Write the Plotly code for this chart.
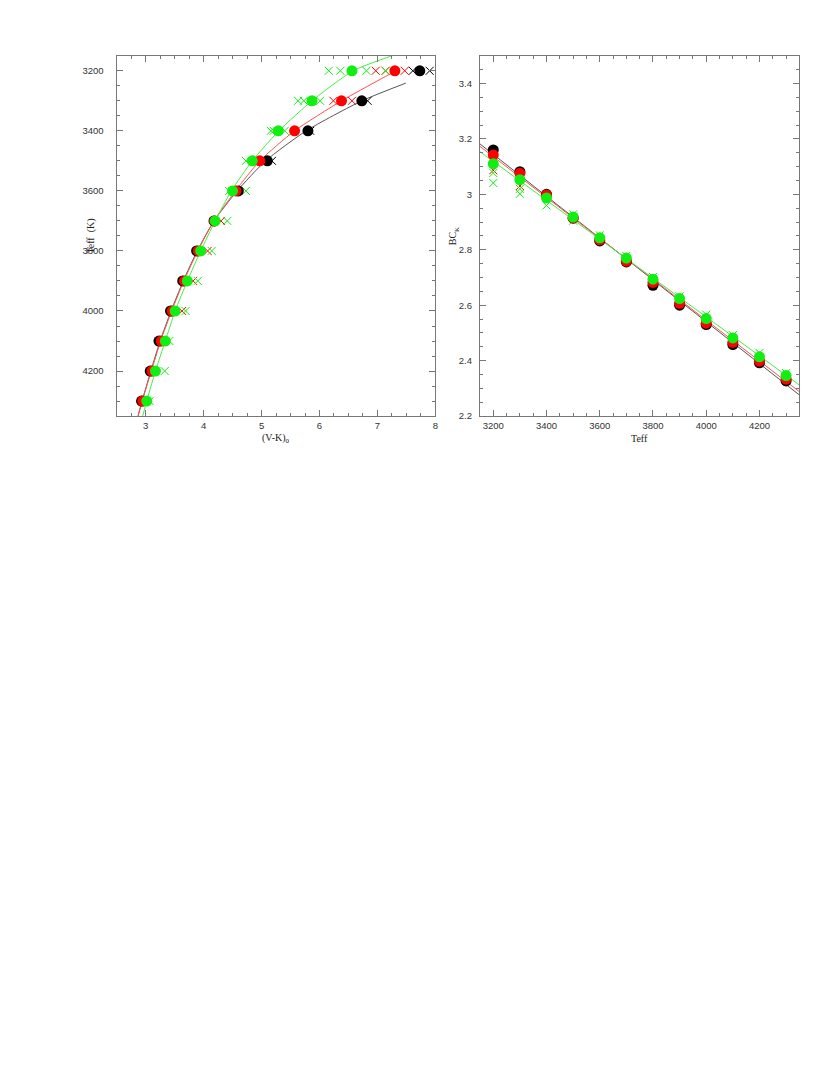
''' Teff - colour and bolometric correction relations '''
import plotly.graph_objects as go

# ---- data ----
teff = [3200, 3300, 3400, 3500, 3600, 3700, 3800, 3900, 4000, 4100, 4200, 4300]

# left panel: (V-K)0 of each model set
vk_black = [7.73, 6.73, 5.80, 5.10, 4.60, 4.18, 3.88, 3.64, 3.43, 3.23, 3.08, 2.93]
vk_red = [7.30, 6.38, 5.57, 4.97, 4.56, 4.19, 3.91, 3.67, 3.46, 3.27, 3.11, 2.95]
vk_green = [6.56, 5.87, 5.29, 4.84, 4.50, 4.20, 3.95, 3.72, 3.51, 3.34, 3.17, 3.02]

# left panel crosses
xg_teff = [3200, 3200, 3200, 3200, 3300, 3300, 3300, 3400, 3400, 3400, 3500,
           3600, 3600, 3700, 3800, 3900, 4000, 4100, 4200, 4300]
xg_vk = [6.16, 6.36, 6.81, 7.14, 5.63, 5.73, 6.01, 5.16, 5.21, 5.40, 4.73,
         4.44, 4.73, 4.41, 4.14, 3.90, 3.69, 3.41, 3.33, 3.07]
xr_teff = [3200, 3200, 3200, 3300, 3300, 3700, 3800, 3900, 4000]
xr_vk = [6.97, 7.14, 7.47, 6.24, 6.56, 4.30, 4.07, 3.82, 3.63]
xk_teff = [3200, 3200, 3300, 3400, 3500]
xk_vk = [7.61, 7.90, 6.83, 5.84, 5.18]

# left panel fitted curves
fit_black_teff = [4350, 4300, 4200, 4100, 4000, 3900, 3800, 3700, 3600, 3500, 3400, 3300, 3241]
fit_black_vk = [2.87, 2.94, 3.09, 3.25, 3.44, 3.65, 3.89, 4.18, 4.58, 5.07, 5.77, 6.73, 7.49]
fit_red_teff = [4350, 4300, 4200, 4100, 4000, 3900, 3800, 3700, 3600, 3500, 3400, 3300, 3200]
fit_red_vk = [2.87, 2.94, 3.10, 3.26, 3.45, 3.66, 3.90, 4.18, 4.55, 4.97, 5.57, 6.38, 7.32]
fit_green_teff = [4350, 4300, 4200, 4100, 4000, 3900, 3800, 3700, 3600, 3500, 3400, 3300, 3200, 3150]
fit_green_vk = [2.95, 3.02, 3.17, 3.34, 3.51, 3.72, 3.95, 4.20, 4.48, 4.84, 5.30, 5.87, 6.58, 7.25]

# right panel: BC_K of each model set
bc_black = [3.160, 3.082, 3.000, 2.914, 2.832, 2.756, 2.672, 2.600, 2.530, 2.458, 2.392, 2.327]
bc_red = [3.142, 3.076, 2.998, 2.915, 2.836, 2.759, 2.682, 2.607, 2.535, 2.466, 2.398, 2.333]
bc_green = [3.110, 3.053, 2.987, 2.918, 2.843, 2.770, 2.694, 2.624, 2.552, 2.482, 2.414, 2.346]

# right panel crosses
bg_teff = [3200, 3200, 3300, 3300, 3400, 3500, 3500, 3600, 3700, 3800, 3900, 4000, 4100, 4200, 4300]
bg_bc = [3.077, 3.041, 3.020, 3.002, 2.960, 2.928, 2.905, 2.852, 2.778, 2.702, 2.632, 2.566,
         2.492, 2.428, 2.355]
br_teff = [3200, 3300]
br_bc = [3.087, 3.030]

# right panel linear fits
line_teff = [3150, 4350]
line_black = [3.182, 2.276]
line_red = [3.173, 2.288]
line_green = [3.154, 2.312]

BLACK = '#000000'
RED = '#ff0000'
GREEN = '#11ee11'
LINE = {'black': '#555555', 'red': '#ff5050', 'green': '#44ee44'}

fig = go.Figure()


def add_line(x, y, color, xa, ya, shape='linear'):
    fig.add_trace(go.Scatter(
        x=x, y=y, mode='lines', xaxis=xa, yaxis=ya,
        line=dict(color=color, width=1, shape=shape, smoothing=0.6),
        showlegend=False, hoverinfo='skip'
    ))


def add_cross(x, y, color, xa, ya):
    fig.add_trace(go.Scatter(
        x=x, y=y, mode='markers', xaxis=xa, yaxis=ya,
        marker=dict(symbol='x-thin-open', size=8, color=color,
                    line=dict(color=color, width=1)),
        showlegend=False
    ))


def add_dots(x, y, color, xa, ya):
    fig.add_trace(go.Scatter(
        x=x, y=y, mode='markers', xaxis=xa, yaxis=ya,
        marker=dict(symbol='circle', size=11, color=color, line=dict(width=0)),
        showlegend=False
    ))


# left panel
add_line(fit_black_vk, fit_black_teff, LINE['black'], 'x', 'y', 'spline')
add_line(fit_red_vk, fit_red_teff, LINE['red'], 'x', 'y', 'spline')
add_line(fit_green_vk, fit_green_teff, LINE['green'], 'x', 'y', 'spline')
add_cross(xk_vk, xk_teff, BLACK, 'x', 'y')
add_cross(xr_vk, xr_teff, RED, 'x', 'y')
add_cross(xg_vk, xg_teff, GREEN, 'x', 'y')
add_dots(vk_black, teff, BLACK, 'x', 'y')
add_dots(vk_red, teff, RED, 'x', 'y')
add_dots(vk_green, teff, GREEN, 'x', 'y')

# right panel
add_line(line_teff, line_black, LINE['black'], 'x2', 'y2')
add_line(line_teff, line_red, LINE['red'], 'x2', 'y2')
add_line(line_teff, line_green, LINE['green'], 'x2', 'y2')
add_cross(br_teff, br_bc, RED, 'x2', 'y2')
add_cross(bg_teff, bg_bc, GREEN, 'x2', 'y2')
add_dots(teff, bc_black, BLACK, 'x2', 'y2')
add_dots(teff, bc_red, RED, 'x2', 'y2')
add_dots(teff, bc_green, GREEN, 'x2', 'y2')

tickfont = dict(family='Liberation Sans, Arial, sans-serif', size=9.5, color='#333333')
titlefont = dict(family='Liberation Serif, Times New Roman, serif', size=10, color='#222222')


def axis(domain, rng, dtick, minor_dtick, anchor, standoff=None):
    d = dict(
        domain=domain, range=rng, anchor=anchor,
        dtick=dtick, tick0=0, ticks='inside', ticklen=6, tickwidth=1, tickcolor='#777777',
        minor=dict(dtick=minor_dtick, ticks='inside', ticklen=3, tickcolor='#777777', showgrid=False),
        showline=True, linecolor='#777777', linewidth=1.2, mirror='allticks',
        showgrid=False, zeroline=False, tickfont=tickfont
    )
    if standoff is not None:
        d['ticklabelstandoff'] = standoff
    return d


# page body has an 8px margin, so the figure sits 8px in from the window edge
W, H, OFF = 822, 1067, 8
xdom1 = [(117 - OFF) / W, (437 - OFF) / W]
xdom2 = [(481.7 - OFF) / W, (802.3 - OFF) / W]
ydom = [1 - (418 - OFF) / H, 1 - (56 - OFF) / H]


def title(text, px, py, angle=0):
    # px, py are window pixel positions of the title centre
    return dict(
        text=text, x=(px - OFF) / W, y=1 - (py - OFF) / H, xref='paper', yref='paper',
        xanchor='center', yanchor='middle', showarrow=False, textangle=angle, font=titlefont
    )


fig.update_layout(
    width=W, height=H,
    margin=dict(l=0, r=0, t=0, b=0),
    paper_bgcolor='white', plot_bgcolor='white',
    xaxis=axis(xdom1, [2.5, 8], 1, 0.25, 'y'),
    yaxis=axis(ydom, [4350, 3150], 200, 50, 'x', standoff=10),
    xaxis2=axis(xdom2, [3150, 4350], 200, 50, 'y2'),
    yaxis2=axis(ydom, [2.2, 3.5], 0.2, 0.05, 'x2', standoff=5),
    annotations=[
        title('(V-K)<sub>0</sub>', 277, 441),
        title('Teff  (K)', 91, 237, -90),
        title('Teff', 642, 441),
        title('BC<sub>K</sub>', 456, 237, -90),
    ]
)

fig.write_html('out.html')
